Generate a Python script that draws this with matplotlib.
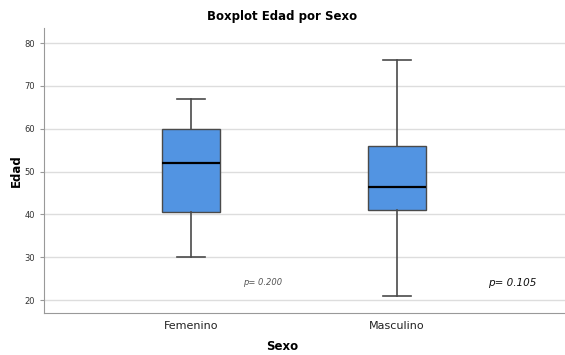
import matplotlib.pyplot as plt

grupos = ["Femenino", "Masculino"]
minimo = [30, 21]
q1 = [40.5, 41]
mediana = [52, 46.5]
q3 = [60, 56]
maximo = [67, 76]
p_valores = ["p= 0.200", "p= 0.105"]
y_ticks = [20, 30, 40, 50, 60, 70, 80]

fig = plt.figure(figsize=(5.65, 3.55), dpi=100)
ax = fig.add_axes([0.078, 0.118, 0.922, 0.803])

stats = []
for i, g in enumerate(grupos):
    stats.append({"label": g, "whislo": minimo[i], "q1": q1[i], "med": mediana[i],
                  "q3": q3[i], "whishi": maximo[i], "fliers": []})

ax.bxp(stats, positions=[0, 1], widths=0.28, capwidths=0.14, patch_artist=True,
       boxprops=dict(facecolor="#5294e2", edgecolor="#4a4a4a", linewidth=1),
       whiskerprops=dict(color="#4a4a4a", linewidth=1.2),
       capprops=dict(color="#4a4a4a", linewidth=1.2),
       medianprops=dict(color="black", linewidth=1.6), zorder=3)

ax.set_xlim(-0.714, 1.816)
ax.set_ylim(16.96, 83.5)
ax.set_yticks(y_ticks)
ax.yaxis.grid(True, color="#dddddd", linewidth=1, zorder=0)
ax.set_axisbelow(True)

for s in ["top", "right"]:
    ax.spines[s].set_visible(False)
for s in ["left", "bottom"]:
    ax.spines[s].set_color("#999999")

ax.tick_params(axis="y", labelsize=6, colors="#333333", length=3, color="#999999")
ax.tick_params(axis="x", labelsize=8, colors="#222222", length=0, pad=6)

# centrado en la figura, no en el eje
xc = (0.5 - 0.078) / 0.922
ax.set_title("Boxplot Edad por Sexo", fontsize=8.5, fontweight="bold", pad=6, x=xc)
ax.set_ylabel("Edad", fontsize=8.5, fontweight="bold", labelpad=1)
ax.set_xlabel("Sexo", fontsize=8.5, fontweight="bold", labelpad=6, x=xc)

ax.text(0.345, 24.2, p_valores[0], fontsize=6, style="italic", color="#555555", ha="center", va="center")
ax.text(1.56, 24.0, p_valores[1], fontsize=7.5, style="italic", color="#111111", ha="center", va="center")

fig.savefig("out.png", dpi=100)
